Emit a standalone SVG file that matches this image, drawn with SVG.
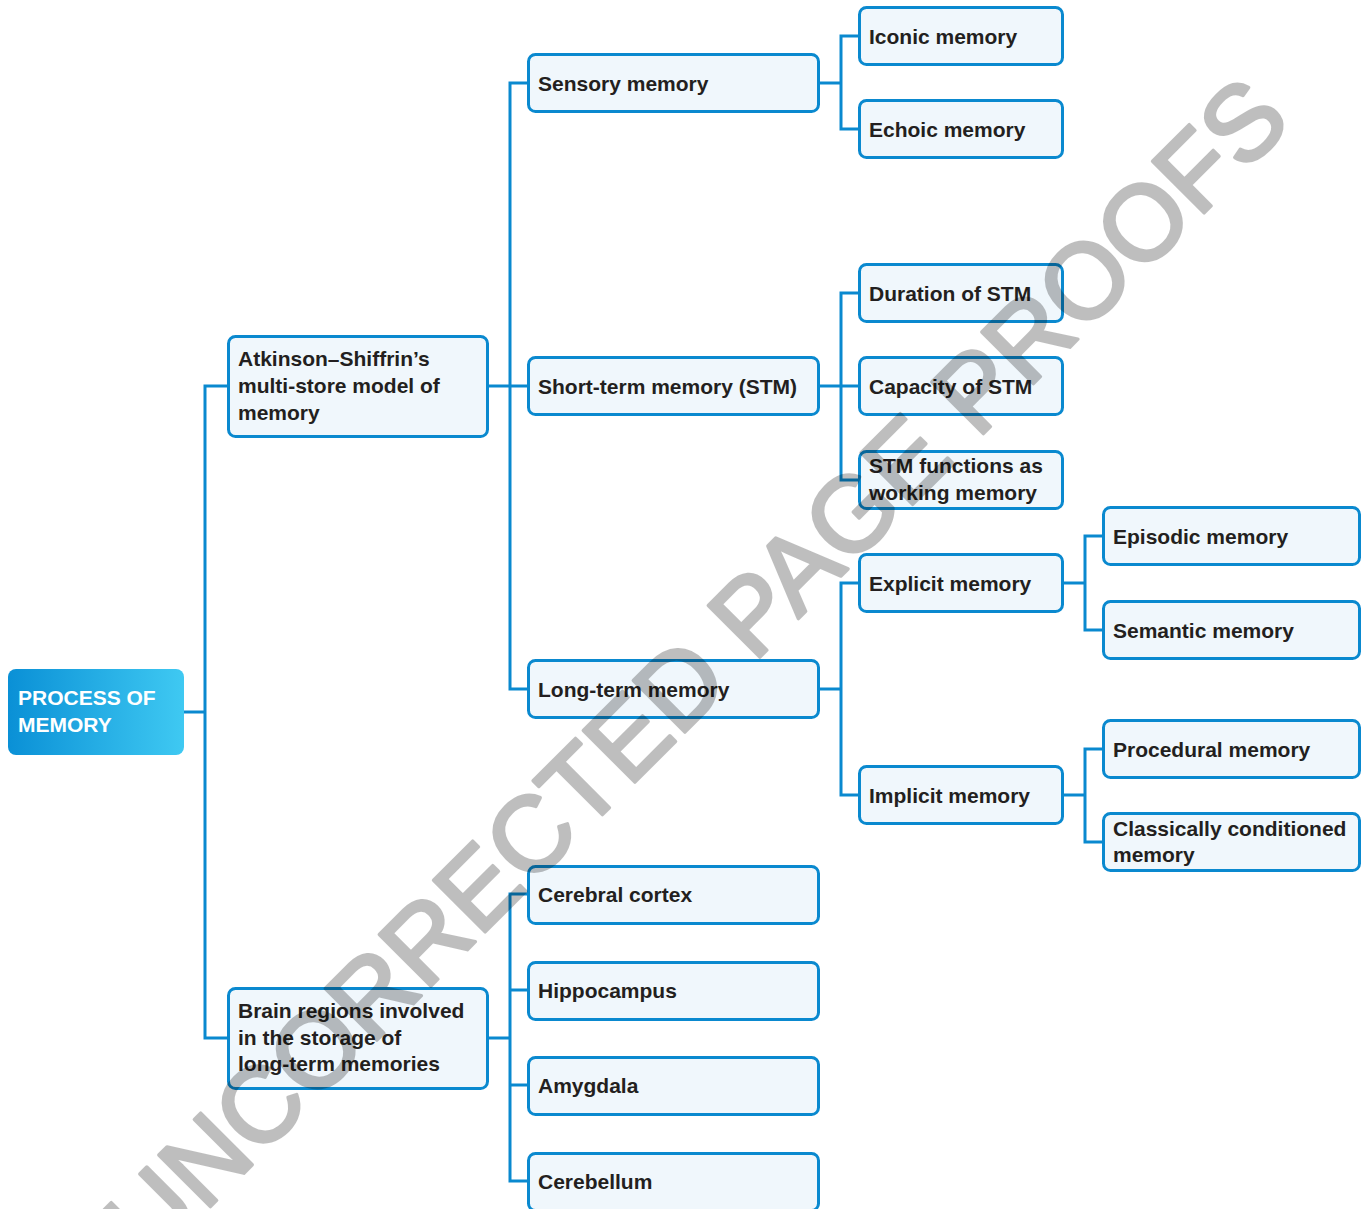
<svg xmlns="http://www.w3.org/2000/svg" width="1365" height="1209" viewBox="0 0 1365 1209">
  <defs>
    <linearGradient id="rootFill" x1="0" y1="0" x2="1" y2="0">
      <stop offset="0" stop-color="#0a90d6"/>
      <stop offset="1" stop-color="#3fc9f2"/>
    </linearGradient>
    <style>
      .box { fill: #f0f7fc; stroke: #0a89cf; stroke-width: 3; }
      .lbl { font-family: "Liberation Sans", Arial, sans-serif; font-weight: bold; font-size: 21px; fill: #231f20; }
      .root-lbl { font-family: "Liberation Sans", Arial, sans-serif; font-weight: bold; font-size: 21px; fill: #ffffff; }
      .wire { fill: none; stroke: #0a89cf; stroke-width: 3; stroke-linejoin: miter; stroke-linecap: butt; }
      .mark { font-family: "Liberation Sans", Arial, sans-serif; font-size: 106px; fill: #000; stroke: #000; stroke-width: 3.5; stroke-linejoin: round; }
    </style>
  </defs>

  <rect width="1365" height="1209" fill="#ffffff"/>

  <!-- tree connectors -->
  <g id="connectors">
    <path class="wire" d="M184 712 H205 M228 386 H205 V1038 H228"/>
    <path class="wire" d="M489 386 H527 M527 83 H510 V689 H527"/>
    <path class="wire" d="M489 1038 H510 M527 894 H510 V1181 H527 M510 990 H527 M510 1085 H527"/>
    <path class="wire" d="M820 83 H841 M858 36 H841 V129 H858"/>
    <path class="wire" d="M820 386 H858 M858 293 H841 V480 H858"/>
    <path class="wire" d="M820 689 H841 M858 583 H841 V795 H858"/>
    <path class="wire" d="M1064 583 H1085 M1102 536 H1085 V630 H1102"/>
    <path class="wire" d="M1064 795 H1085 M1102 749 H1085 V842 H1102"/>
  </g>

  <!-- root -->
  <g id="process-of-memory">
    <rect x="8" y="669" width="176" height="86" rx="8" fill="url(#rootFill)"/>
    <text class="root-lbl" x="18" y="705">PROCESS OF</text>
    <text class="root-lbl" x="18" y="732">MEMORY</text>
  </g>

  <!-- level 1 -->
  <g id="multi-store-model">
    <rect class="box" x="228.5" y="336.5" width="259" height="100" rx="7"/>
    <text class="lbl" x="238" y="366">Atkinson–Shiffrin’s</text>
    <text class="lbl" x="238" y="393">multi-store model of</text>
    <text class="lbl" x="238" y="420">memory</text>
  </g>
  <g id="brain-regions">
    <rect class="box" x="228.5" y="988.5" width="259" height="100" rx="7"/>
    <text class="lbl" x="238" y="1018">Brain regions involved</text>
    <text class="lbl" x="238" y="1045">in the storage of</text>
    <text class="lbl" x="238" y="1071">long-term memories</text>
  </g>

  <!-- level 2 -->
  <g id="sensory-memory">
    <rect class="box" x="528.5" y="54.5" width="290" height="57" rx="7"/>
    <text class="lbl" x="538" y="90.5">Sensory memory</text>
  </g>
  <g id="short-term-memory">
    <rect class="box" x="528.5" y="357.5" width="290" height="57" rx="7"/>
    <text class="lbl" x="538" y="393.5">Short-term memory (STM)</text>
  </g>
  <g id="long-term-memory">
    <rect class="box" x="528.5" y="660.5" width="290" height="57" rx="7"/>
    <text class="lbl" x="538" y="696.5">Long-term memory</text>
  </g>
  <g id="cerebral-cortex">
    <rect class="box" x="528.5" y="866.5" width="290" height="57" rx="7"/>
    <text class="lbl" x="538" y="901.5">Cerebral cortex</text>
  </g>
  <g id="hippocampus">
    <rect class="box" x="528.5" y="962.5" width="290" height="57" rx="7"/>
    <text class="lbl" x="538" y="997.5">Hippocampus</text>
  </g>
  <g id="amygdala">
    <rect class="box" x="528.5" y="1057.5" width="290" height="57" rx="7"/>
    <text class="lbl" x="538" y="1092.5">Amygdala</text>
  </g>
  <g id="cerebellum">
    <rect class="box" x="528.5" y="1153.5" width="290" height="57" rx="7"/>
    <text class="lbl" x="538" y="1188.5">Cerebellum</text>
  </g>

  <!-- level 3 -->
  <g id="iconic-memory">
    <rect class="box" x="859.5" y="7.5" width="203" height="57" rx="7"/>
    <text class="lbl" x="869" y="43.5">Iconic memory</text>
  </g>
  <g id="echoic-memory">
    <rect class="box" x="859.5" y="100.5" width="203" height="57" rx="7"/>
    <text class="lbl" x="869" y="136.5">Echoic memory</text>
  </g>
  <g id="duration-of-stm">
    <rect class="box" x="859.5" y="264.5" width="203" height="57" rx="7"/>
    <text class="lbl" x="869" y="300.5">Duration of STM</text>
  </g>
  <g id="capacity-of-stm">
    <rect class="box" x="859.5" y="357.5" width="203" height="57" rx="7"/>
    <text class="lbl" x="869" y="393.5">Capacity of STM</text>
  </g>
  <g id="working-memory">
    <rect class="box" x="859.5" y="451.5" width="203" height="57" rx="7"/>
    <text class="lbl" x="869" y="473">STM functions as</text>
    <text class="lbl" x="869" y="500">working memory</text>
  </g>
  <g id="explicit-memory">
    <rect class="box" x="859.5" y="554.5" width="203" height="57" rx="7"/>
    <text class="lbl" x="869" y="590.5">Explicit memory</text>
  </g>
  <g id="implicit-memory">
    <rect class="box" x="859.5" y="766.5" width="203" height="57" rx="7"/>
    <text class="lbl" x="869" y="802.5">Implicit memory</text>
  </g>

  <!-- level 4 -->
  <g id="episodic-memory">
    <rect class="box" x="1103.5" y="507.5" width="256" height="57" rx="7"/>
    <text class="lbl" x="1113" y="543.5">Episodic memory</text>
  </g>
  <g id="semantic-memory">
    <rect class="box" x="1103.5" y="601.5" width="256" height="57" rx="7"/>
    <text class="lbl" x="1113" y="637.5">Semantic memory</text>
  </g>
  <g id="procedural-memory">
    <rect class="box" x="1103.5" y="720.5" width="256" height="57" rx="7"/>
    <text class="lbl" x="1113" y="756.5">Procedural memory</text>
  </g>
  <g id="classically-conditioned-memory">
    <rect class="box" x="1103.5" y="813.5" width="256" height="57" rx="7"/>
    <text class="lbl" x="1113" y="836">Classically conditioned</text>
    <text class="lbl" x="1113" y="862">memory</text>
  </g>

  <!-- proof watermark across the sheet -->
  <g id="watermark" opacity="0.25">
    <text class="mark" transform="translate(150 1267) rotate(-45)">UNCORRECTED PAGE PROOFS</text>
  </g>
</svg>
